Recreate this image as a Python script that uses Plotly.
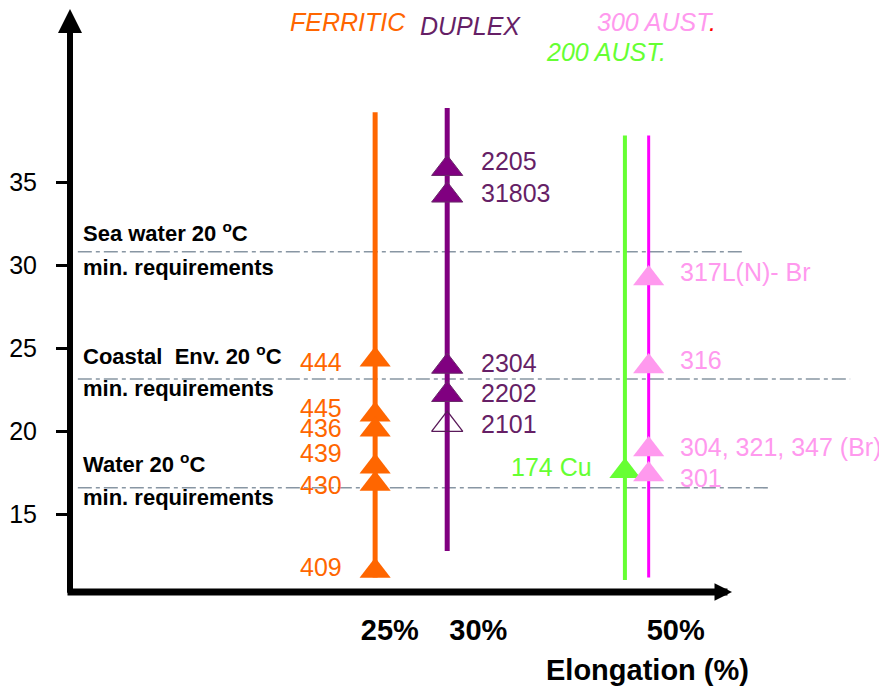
import plotly.graph_objects as go

# ---------------- data ----------------
# column positions on a schematic elongation axis (0-100 position units)
ferritic_x = 37.5
duplex_x = 46.3
aust200_x = 68.0
aust300_x = 70.9

x_tick_pos = [39.3, 50.1, 74.2]
x_tick_text = ["25%", "30%", "50%"]

y_tick_vals = [15, 20, 25, 30, 35]
y_tick_text = ["15", "20", "25", "30", "35"]

ferritic_grades = ["444", "445", "436", "439", "430", "409"]
ferritic_vals = [24.3, 21.0, 20.1, 17.86, 16.83, 11.6]

duplex_grades = ["2205", "31803", "2304", "2202", "2101"]
duplex_vals = [35.8, 34.2, 23.9, 22.2, 20.4]
duplex_open = [False, False, False, False, True]

aust200_grades = ["174 Cu"]
aust200_vals = [17.6]

aust300_grades = ["317L(N)- Br", "316", "304, 321, 347 (Br)", "301"]
aust300_vals = [29.2, 23.9, 18.9, 17.4]

# vertical range of each family line
ferritic_span = [11.2, 39.2]
duplex_span = [12.8, 39.45]
aust200_span = [11.05, 37.8]
aust300_span = [11.2, 37.8]

threshold_names = ["Sea water 20 <sup>o</sup>C", "Coastal  Env. 20 <sup>o</sup>C", "Water 20 <sup>o</sup>C"]
threshold_sub = "min. requirements"
threshold_vals = [30.8, 23.15, 16.6]
threshold_start = 1.2
threshold_end = [82.7, 95.5, 85.7]

group_names = ["<i>FERRITIC</i>", "<i>DUPLEX</i>",
               "<i>300 AUST<span style='color:#ff0000'>.</span></i>", "<i>200 AUST.</i>"]

# ---------------- styles ----------------
ORANGE = "#ff6600"
PURPLE = "#800080"
PURPLE_TXT = "#661f66"
GREEN = "#66ff33"
PINK = "#ff99ee"
MAGENTA = "#ff00ff"
GREY = "#8896a3"
FONT = "Liberation Sans, Arial, sans-serif"

fig = go.Figure()

# threshold dash-dot lines
for name, v, xe in zip(threshold_names, threshold_vals, threshold_end):
    fig.add_trace(go.Scatter(x=[threshold_start, xe], y=[v, v], mode="lines",
                             line=dict(color=GREY, width=1.6, dash="14px,4px,4px,4px"),
                             hoverinfo="skip", showlegend=False))

# family vertical lines
for xpos, span, col, w in [(ferritic_x, ferritic_span, ORANGE, 5),
                           (duplex_x, duplex_span, PURPLE, 5),
                           (aust200_x, aust200_span, GREEN, 4),
                           (aust300_x, aust300_span, MAGENTA, 3)]:
    fig.add_trace(go.Scatter(x=[xpos, xpos], y=span, mode="lines",
                             line=dict(color=col, width=w), hoverinfo="skip", showlegend=False))

MS = 27
fig.add_trace(go.Scatter(x=[ferritic_x] * len(ferritic_vals), y=ferritic_vals, mode="markers",
                         marker=dict(symbol="triangle-up", size=MS, color=ORANGE, line=dict(width=0)),
                         text=ferritic_grades, showlegend=False))
dup_solid = [v for v, o in zip(duplex_vals, duplex_open) if not o]
dup_open = [v for v, o in zip(duplex_vals, duplex_open) if o]
fig.add_trace(go.Scatter(x=[duplex_x] * len(dup_solid), y=dup_solid, mode="markers",
                         marker=dict(symbol="triangle-up", size=MS, color=PURPLE,
                                     line=dict(width=1, color="#6a2a6a")), showlegend=False))
fig.add_trace(go.Scatter(x=[duplex_x] * len(dup_open), y=dup_open, mode="markers",
                         marker=dict(symbol="triangle-up-open", size=MS, color="#5a1a5a",
                                     line=dict(width=1.3)), showlegend=False))
fig.add_trace(go.Scatter(x=[aust200_x] * len(aust200_vals), y=aust200_vals, mode="markers",
                         marker=dict(symbol="triangle-up", size=MS, color=GREEN, line=dict(width=0)),
                         showlegend=False))
fig.add_trace(go.Scatter(x=[aust300_x] * len(aust300_vals), y=aust300_vals, mode="markers",
                         marker=dict(symbol="triangle-up", size=MS, color=PINK, line=dict(width=0)),
                         showlegend=False))

annotations = []

def labels(xpos, grades, vals, color, side, dx, dys):
    for g, v, dy in zip(grades, vals, dys):
        annotations.append(dict(x=xpos, y=v, text=g, showarrow=False,
                                xanchor="right" if side == "left" else "left", yanchor="middle",
                                xshift=dx, yshift=dy,
                                font=dict(family=FONT, size=25, color=color)))

labels(ferritic_x, ferritic_grades, ferritic_vals, ORANGE, "left", -31, [-2, 7, 2, 14, -1, 4])
labels(duplex_x, duplex_grades, duplex_vals, PURPLE_TXT, "right", 32, [8, 2, 3, 2, 1])
labels(aust200_x, aust200_grades, aust200_vals, GREEN, "left", -31, [4])
labels(aust300_x, aust300_grades, aust300_vals, PINK, "right", 29, [6, 6, 3, -3])

# threshold texts
up_shift = [20, 24, 25]
low_shift = [-16, -10, -10]
for name, v, us, ls in zip(threshold_names, threshold_vals, up_shift, low_shift):
    annotations.append(dict(x=threshold_start, y=v, text=name, showarrow=False, xanchor="left",
                            yanchor="middle", xshift=3, yshift=us,
                            font=dict(family=FONT, size=22, color="black", weight="bold")))
    annotations.append(dict(x=threshold_start, y=v, text=threshold_sub, showarrow=False, xanchor="left",
                            yanchor="middle", xshift=3, yshift=ls,
                            font=dict(family=FONT, size=22, color="black", weight="bold")))

# group headers (paper coords)
hdr_pos = [(0.342, 0.979), (0.492, 0.9725), (0.719, 0.979), (0.657, 0.928)]
hdr_col = [ORANGE, PURPLE_TXT, PINK, GREEN]
for t, (hx, hy), c in zip(group_names, hdr_pos, hdr_col):
    annotations.append(dict(x=hx, y=hy, xref="paper", yref="paper", text=t, showarrow=False,
                            xanchor="center", yanchor="middle",
                            font=dict(family=FONT, size=25, color=c)))

# x-axis title
annotations.append(dict(x=0.708, y=-0.134, xref="paper", yref="paper", text="Elongation (%)",
                        showarrow=False, xanchor="center", yanchor="middle",
                        font=dict(family=FONT, size=29, color="black", weight="bold")))

# axis arrows
annotations.append(dict(x=2 / 819, y=1.003, xref="paper", yref="paper", ax=0, ay=586, text="",
                        showarrow=True, arrowhead=2, arrowsize=0.8, arrowwidth=6, arrowcolor="black"))
annotations.append(dict(x=(732 - 68) / 819, y=0, xref="paper", yref="paper", ax=-666, ay=0, text="",
                        showarrow=True, arrowhead=2, arrowsize=0.5, arrowwidth=7, arrowcolor="black"))

# the page body adds an 8px margin, so the figure is 8px smaller and offset accordingly
fig.update_layout(
    width=879, height=682,
    margin=dict(l=60, r=0, t=2, b=98, autoexpand=False),
    plot_bgcolor="white", paper_bgcolor="white",
    annotations=annotations,
    xaxis=dict(range=[0, 100], showgrid=False, zeroline=False, showline=False,
               tickvals=x_tick_pos, ticktext=x_tick_text, ticks="",
               ticklabelstandoff=18, automargin=False,
               tickfont=dict(family=FONT, size=29, color="black", weight="bold")),
    yaxis=dict(range=[10.33, 45.35], showgrid=False, zeroline=False, showline=False,
               tickvals=y_tick_vals, ticktext=y_tick_text, ticks="outside", ticklen=11,
               tickwidth=3, tickcolor="black", ticklabelstandoff=14, automargin=False,
               tickfont=dict(family=FONT, size=25, color="black")),
)

fig.write_html("out.html")
